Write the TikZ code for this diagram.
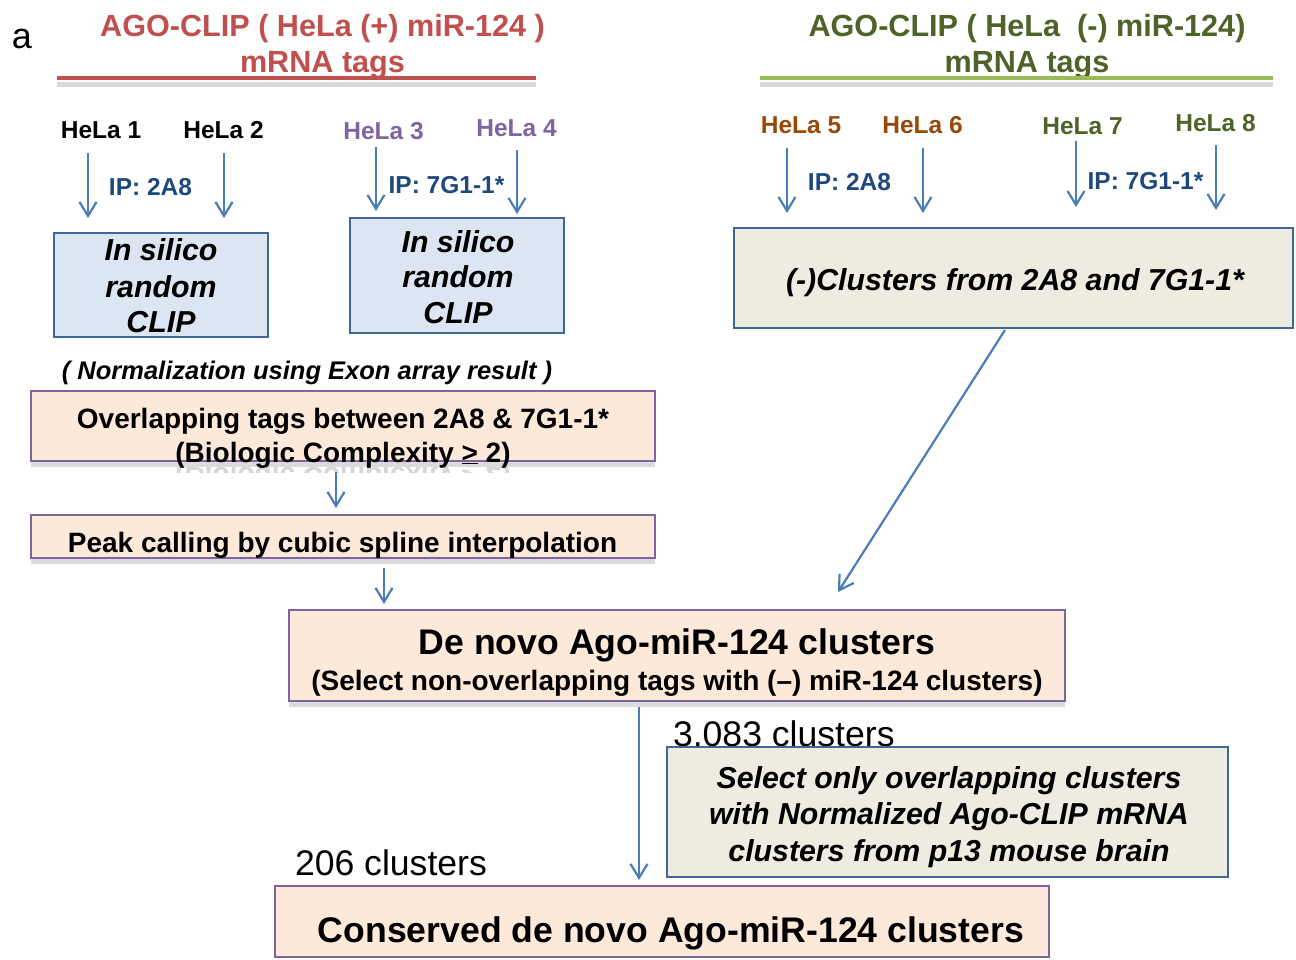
\documentclass[tikz,border=0pt]{standalone}
\usepackage{fontspec}
\usepackage{graphicx}
\setmainfont{Liberation Sans}
\usetikzlibrary{arrows.meta,shadows}
\definecolor{tred}{HTML}{C0504D}
\definecolor{tgreen}{HTML}{4F6228}
\definecolor{lgreen}{HTML}{9BBB59}
\definecolor{tpurple}{HTML}{8064A2}
\definecolor{tbrown}{HTML}{984807}
\definecolor{ipblue}{HTML}{1F497D}
\definecolor{arrowblue}{HTML}{4A7EBB}
\definecolor{boxblue}{HTML}{41669A}
\definecolor{fillblue}{HTML}{DCE6F2}
\definecolor{filltan}{HTML}{EEECE1}
\definecolor{fillpeach}{HTML}{FDE9D9}
\begin{document}
\begin{tikzpicture}[x=1pt,y=-1pt,
  every node/.style={inner sep=0pt, outer sep=0pt},
  ttl/.style={font=\fontsize{30.6}{36}\selectfont\bfseries, anchor=base},
  hela/.style={font=\fontsize{24.5}{29}\selectfont\bfseries, anchor=base},
  ip/.style={font=\fontsize{24.5}{29}\selectfont\bfseries, text=ipblue, anchor=base},
  bi/.style={font=\fontsize{30.3}{36}\selectfont\bfseries\itshape, anchor=base},
  bt/.style={font=\fontsize{28}{34}\selectfont\bfseries, anchor=base},
  big/.style={font=\fontsize{35.6}{42}\selectfont\bfseries, anchor=base},
  num/.style={font=\fontsize{35.6}{42}\selectfont, anchor=base west},
  arr/.style={draw=arrowblue, line width=2.2pt, -{Straight Barb[length=14pt,width=17pt]}},
  bluebox/.style={draw=boxblue, fill=fillblue, line width=2.2pt},
  tanbox/.style={draw=boxblue, fill=filltan, line width=2.2pt},
  peachbox/.style={draw=tpurple, fill=fillpeach, line width=2.2pt},
  shad/.style={drop shadow={shadow xshift=0pt, shadow yshift=-6pt, fill=black, opacity=0.14}},
]
\useasboundingbox[fill=white] (0,0) rectangle (1296,959);

% panel letter
\node[font=\fontsize{36}{42}\selectfont, anchor=base west] (lbl) at (12,48) {a};

% titles
\node[ttl, text=tred] (t1a) at (322.5,36) {AGO-CLIP ( HeLa (+) miR-124 )};
\node[ttl, text=tred] (t1b) at (322.5,72) {mRNA tags};
\node[ttl, text=tgreen] (t2a) at (1027,36) {AGO-CLIP ( HeLa\ \ (-) miR-124)};
\node[ttl, text=tgreen] (t2b) at (1027,72) {mRNA tags};
\draw[black, opacity=0.15, line width=5pt] (57,84) -- (536,84);
\draw[tred, line width=4pt] (57,78) -- (536,78);
\draw[black, opacity=0.15, line width=5pt] (760,84) -- (1273,84);
\draw[lgreen, line width=4pt] (760,78) -- (1273,78);

% sample labels
\node[hela] (h1) at (101,138) {HeLa 1};
\node[hela] (h2) at (223.5,138) {HeLa 2};
\node[hela, text=tpurple] (h3) at (383.5,139) {HeLa 3};
\node[hela, text=tpurple] (h4) at (516.5,136) {HeLa 4};
\node[hela, text=tbrown] (h5) at (801,133) {HeLa 5};
\node[hela, text=tbrown] (h6) at (922.5,133) {HeLa 6};
\node[hela, text=tgreen] (h7) at (1082.5,134) {HeLa 7};
\node[hela, text=tgreen] (h8) at (1215.5,131) {HeLa 8};

\node[ip] (ip1) at (150.5,195) {IP: 2A8};
\node[ip] (ip2) at (446.5,193) {IP: 7G1-1*};
\node[ip] (ip3) at (849.5,190) {IP: 2A8};
\node[ip] (ip4) at (1145.5,189) {IP: 7G1-1*};

% arrow end points
\coordinate (a1s) at (88,153);   \coordinate (a1e) at (88,218);
\coordinate (a2s) at (224,153);  \coordinate (a2e) at (224,218);
\coordinate (a3s) at (376,147);  \coordinate (a3e) at (376,211);
\coordinate (a4s) at (517,150);  \coordinate (a4e) at (517,214);
\coordinate (a5s) at (787,148);  \coordinate (a5e) at (787,213);
\coordinate (a6s) at (923,148);  \coordinate (a6e) at (923,213);
\coordinate (a7s) at (1076,141); \coordinate (a7e) at (1076,207);
\coordinate (a8s) at (1216,145); \coordinate (a8e) at (1216,210);
\foreach \i in {1,...,8} { \draw[arr] (a\i s) -- (a\i e); }

% in silico boxes
\node[bluebox, minimum width=214, minimum height=104] (b1) at (161,285) {};
\node[bi] (b1l1) at (161,260) {In silico};
\node[bi] (b1l2) at (161,297) {random};
\node[bi] (b1l3) at (161,332) {CLIP};
\node[bluebox, minimum width=214, minimum height=115] (b2) at (457,275.5) {};
\node[bi] (b2l1) at (458,252) {In silico};
\node[bi] (b2l2) at (458,287) {random};
\node[bi] (b2l3) at (458,323) {CLIP};

% right cluster box
\node[tanbox, minimum width=559, minimum height=100] (br) at (1013.5,278) {};
\node[bi] (brt) at (1015,290) {(-)Clusters from 2A8 and 7G1-1*};

% normalization note
\node[font=\fontsize{25.5}{30}\selectfont\bfseries\itshape, anchor=base] (norm) at (307,379) {( Normalization using Exon array result )};

% overlap box
\node[peachbox, shad, minimum width=624, minimum height=70] (ov) at (343,426) {};
\begin{scope}
  \clip (150,463) rectangle (540,472);
  \node[bt, anchor=north, text=black!16] (ovrefl) at (343,462) {\scalebox{1}[-1]{(Biologic Complexity \underline{>} 2)}};
\end{scope}
\node[bt] (ov1) at (343,428) {Overlapping tags between 2A8 \& 7G1-1*};
\node[bt] (ov2) at (343,462) {(Biologic Complexity \underline{>} 2)};

\coordinate (c1s) at (336,472); \coordinate (c1e) at (336,508);
\draw[arr] (c1s) -- (c1e);

% peak box
\node[peachbox, shad, minimum width=624, minimum height=43] (pk) at (343,536.5) {};
\node[bt] (pkt) at (342.5,552) {Peak calling by cubic spline interpolation};

\coordinate (c2s) at (384,568); \coordinate (c2e) at (384,604);
\draw[arr] (c2s) -- (c2e);

% de novo box
\node[peachbox, shad, minimum width=776, minimum height=91] (dn) at (677,655.5) {};
\node[big] (dn1) at (677,654) {De novo Ago-miR-124 clusters};
\node[bt] (dn2) at (677,690) {(Select non-overlapping tags with (–) miR-124 clusters)};

% diagonal arrow
\coordinate (c3s) at (1005,330); \coordinate (c3e) at (838,592);
\draw[arr] (c3s) -- (c3e);

% vertical arrow to conserved
\coordinate (c4s) at (639,707); \coordinate (c4e) at (639,880);
\draw[arr] (c4s) -- (c4e);

\node[num] (n1) at (673,746) {3,083 clusters};

% select box
\node[tanbox, minimum width=561, minimum height=130] (sel) at (947.5,812) {};
\node[bi] (sel1) at (949,788) {Select only overlapping clusters};
\node[bi] (sel2) at (949,824) {with Normalized Ago-CLIP mRNA};
\node[bi] (sel3) at (949,861) {clusters from p13 mouse brain};

\node[num] (n2) at (295,875) {206 clusters};

% conserved box
\node[peachbox, minimum width=774, minimum height=71] (cs) at (662,921.5) {};
\node[big] (cst) at (671,942) {Conserved de novo Ago-miR-124 clusters};
\end{tikzpicture}
\end{document}
